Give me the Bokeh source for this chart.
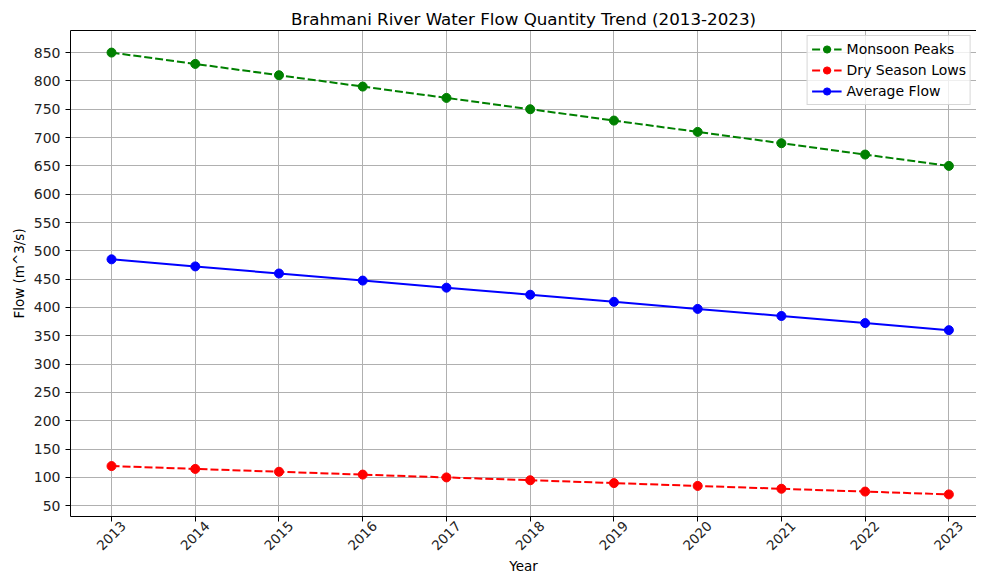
import math
from bokeh.plotting import figure
from bokeh.models import FixedTicker, LinearAxis, Legend, LegendItem, Range1d
from bokeh.embed import file_html
from bokeh.resources import INLINE

years = [2013, 2014, 2015, 2016, 2017, 2018, 2019, 2020, 2021, 2022, 2023]
monsoon_peaks = [850, 830, 810, 790, 770, 750, 730, 710, 690, 670, 650]
dry_season_lows = [120, 115, 110, 105, 100, 95, 90, 85, 80, 75, 70]
average_flow = [485, 472.5, 460, 447.5, 435, 422.5, 410, 397.5, 385, 372.5, 360]
y_ticks = list(range(50, 851, 50))

FONT = "DejaVu Sans"
Y0, Y1 = 31, 889
LABEL_SHIFT = 0.14  # label anchor shift (in years) so that rotated labels centre on ticks

p = figure(width=976, height=576, output_backend="svg", toolbar_location=None,
           x_range=Range1d(2012.51, 2023.33), y_range=Range1d(Y0, Y1),
           min_border_left=70, min_border_right=0, min_border_top=30, min_border_bottom=59)

p.title.text = "Brahmani River Water Flow Quantity Trend (2013-2023)"
p.title.align = "center"
p.title.text_font = FONT
p.title.text_font_size = "16.7px"
p.title.text_font_style = "normal"
p.title.text_color = "black"
p.title.standoff = 3

p.outline_line_color = None
p.background_fill_color = "white"
p.border_fill_color = "white"

for ax in (p.xaxis[0], p.yaxis[0]):
    ax.axis_line_color = "black"
    ax.axis_line_width = 1
    ax.major_tick_line_color = "black"
    ax.major_tick_in = 0
    ax.major_tick_out = 5
    ax.minor_tick_line_color = None
    ax.major_label_text_font = FONT
    ax.major_label_text_font_size = "14px"
    ax.major_label_text_color = "#222222"
    ax.axis_label_text_font = FONT
    ax.axis_label_text_font_size = "13.5px"
    ax.axis_label_text_font_style = "normal"
    ax.axis_label_text_color = "black"

p.xaxis.ticker = FixedTicker(ticks=years)
p.yaxis.ticker = FixedTicker(ticks=y_ticks)
p.xaxis.major_label_text_alpha = 0
p.xaxis.major_label_text_font_size = "1px"
p.xaxis.major_label_standoff = 0
p.yaxis.axis_label = "Flow (m^3/s)"
p.yaxis.axis_label_standoff = 4

# label-only axis below, with anchors shifted so rotated labels are centred on the ticks
shifted = [round(y + LABEL_SHIFT, 2) for y in years]
lab_axis = LinearAxis(ticker=FixedTicker(ticks=shifted),
                      major_label_overrides={s: str(y) for s, y in zip(shifted, years)},
                      major_label_orientation=math.pi / 4,
                      major_label_text_font=FONT, major_label_text_font_size="13.5px",
                      major_label_text_color="#222222", major_label_standoff=2,
                      axis_line_color=None, major_tick_line_color=None,
                      major_tick_out=0, major_tick_in=0,
                      minor_tick_line_color=None,
                      axis_label="Year", axis_label_text_font=FONT,
                      axis_label_text_font_size="13.5px", axis_label_text_font_style="normal",
                      axis_label_text_color="black", axis_label_standoff=0)
p.add_layout(lab_axis, "below")

top = LinearAxis(ticker=FixedTicker(ticks=[]), major_label_text_font_size="0px",
                 major_label_standoff=0, major_tick_out=0, major_tick_in=0,
                 axis_line_color="black", major_tick_line_color=None, minor_tick_line_color=None)
p.add_layout(top, "above")

p.xgrid.ticker = FixedTicker(ticks=years)
p.ygrid.ticker = FixedTicker(ticks=y_ticks)
for g in (p.xgrid[0], p.ygrid[0]):
    g.grid_line_color = "#b0b0b0"
    g.grid_line_width = 1

l1 = p.line(years, monsoon_peaks, line_color="green", line_width=2, line_dash="8 3")
s1 = p.scatter(years, monsoon_peaks, size=9, fill_color="green", line_color="green")
l2 = p.line(years, dry_season_lows, line_color="red", line_width=2, line_dash="8 3")
s2 = p.scatter(years, dry_season_lows, size=9, fill_color="red", line_color="red")
l3 = p.line(years, average_flow, line_color="blue", line_width=2)
s3 = p.scatter(years, average_flow, size=9, fill_color="blue", line_color="blue")

legend = Legend(items=[
    LegendItem(label="Monsoon Peaks", renderers=[l1, s1]),
    LegendItem(label="Dry Season Lows", renderers=[l2, s2]),
    LegendItem(label="Average Flow", renderers=[l3, s3]),
], location="top_right")
legend.label_text_font = FONT
legend.label_text_font_size = "14px"
legend.label_text_color = "black"
legend.border_line_color = "#cccccc"
legend.border_line_alpha = 0.8
legend.background_fill_alpha = 0.8
legend.glyph_width = 30
legend.glyph_height = 18
legend.label_height = 18
legend.spacing = 3
legend.padding = 4
legend.margin = 5
p.add_layout(legend)

open("out.html", "w").write(file_html(p, INLINE))
